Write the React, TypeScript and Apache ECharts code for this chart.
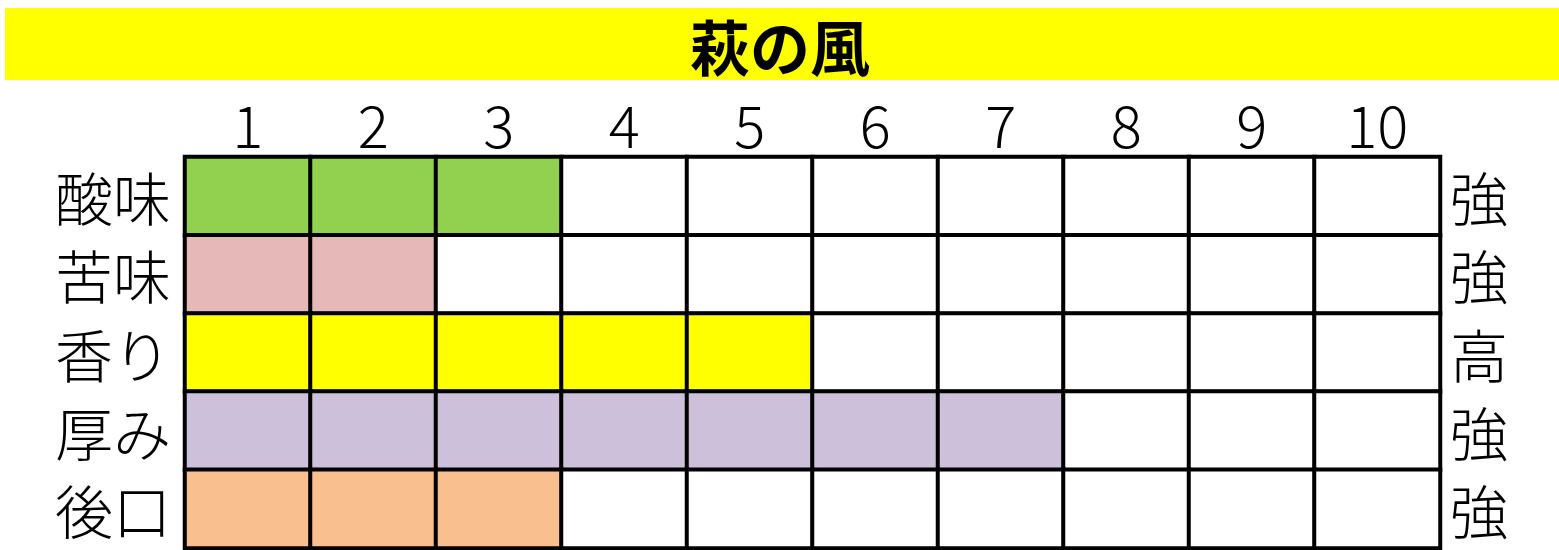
import React, { useEffect, useRef } from "react";
import * as echarts from "echarts";

const title = "萩の風";
const levels = ["1", "2", "3", "4", "5", "6", "7", "8", "9", "10"];
const traits = ["酸味", "苦味", "香り", "厚み", "後口"];
const highLabels = ["強", "強", "高", "強", "強"];
const scores = [3, 2, 5, 7, 3];
const traitColors = ["#92D050", "#E6B8B7", "#FFFF00", "#CCC0DA", "#FABF8F"];

const FONT = "'Noto Sans CJK JP', 'Noto Sans', sans-serif";

const App: React.FC = () => {
    const chartRef = useRef<HTMLDivElement>(null);

    useEffect(() => {
        document.body.style.margin = "0";
        const chart = echarts.init(chartRef.current!, undefined, { renderer: "svg" });

        // one cell per trait and level; filled cells carry row index + 1, empty ones 0
        const cells: number[][] = [];
        traits.forEach((_, row) => {
            levels.forEach((_, col) => {
                cells.push([col, row, col < scores[row] ? row + 1 : 0]);
            });
        });

        const pieces = [{ value: 0, color: "#FFFFFF" }].concat(
            traitColors.map((c, i) => ({ value: i + 1, color: c }))
        );

        const labelStyle = {
            color: "#000",
            fontSize: 58,
            lineHeight: 56,
            fontWeight: 300,
            fontFamily: FONT,
        };

        chart.setOption({
            animation: false,
            backgroundColor: "#fff",
            graphic: [
                {
                    type: "rect",
                    shape: { x: 5, y: 8, width: 1554, height: 72 },
                    style: { fill: "#FFFF00" },
                    z: 0,
                },
                {
                    type: "text",
                    x: 780,
                    y: 44,
                    style: {
                        text: title,
                        fill: "#000",
                        font: `bold 60px ${FONT}`,
                        lineHeight: 58,
                        align: "center",
                        verticalAlign: "middle",
                    },
                    z: 1,
                },
            ],
            visualMap: {
                type: "piecewise",
                show: false,
                dimension: 2,
                pieces,
            },
            grid: { left: 185, right: 119, top: 157, bottom: 2 },
            xAxis: {
                type: "category",
                data: levels,
                position: "top",
                axisLine: { show: false },
                axisTick: { show: false },
                axisLabel: { ...labelStyle, margin: 6 },
                splitLine: { show: false },
            },
            yAxis: [
                {
                    type: "category",
                    data: traits,
                    inverse: true,
                    axisLine: { show: false },
                    axisTick: { show: false },
                    axisLabel: { ...labelStyle, margin: 14 },
                },
                {
                    type: "category",
                    data: highLabels,
                    inverse: true,
                    position: "right",
                    axisLine: { show: false },
                    axisTick: { show: false },
                    axisLabel: { ...labelStyle, margin: 10 },
                },
            ],
            series: [
                {
                    type: "heatmap",
                    xAxisIndex: 0,
                    yAxisIndex: 0,
                    data: cells,
                    itemStyle: { borderColor: "#000", borderWidth: 4 },
                    emphasis: { disabled: true },
                    label: { show: false },
                },
            ],
        } as any);

        return () => {
            chart.dispose();
        };
    }, []);

    return <div ref={chartRef} style={{ width: "1559px", height: "550px" }} />;
};

export default App;
